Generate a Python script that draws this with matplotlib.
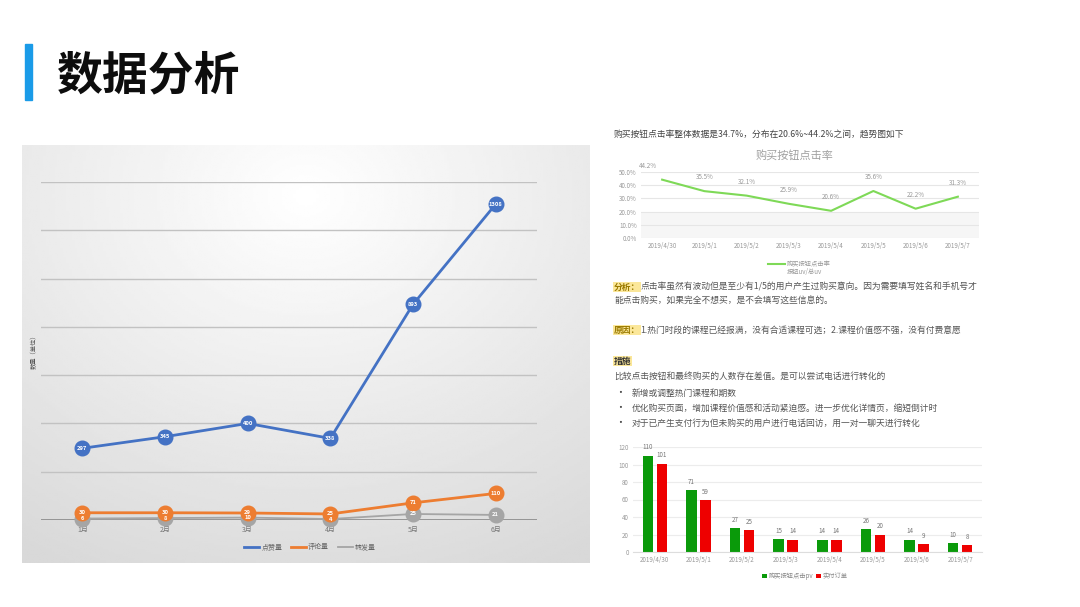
import numpy as np
import matplotlib
matplotlib.use("Agg")
from matplotlib import pyplot as plt
from matplotlib.lines import Line2D

plt.rcParams['font.family'] = ['Noto Sans CJK SC', 'DejaVu Sans']
plt.rcParams['axes.unicode_minus'] = False

W, H = 1080, 607

# left chart: monthly interaction counts
months = ["1月", "2月", "3月", "4月", "5月", "6月"]
likes = [297, 345, 400, 338, 893, 1308]
comments = [30, 30, 29, 25, 71, 110]
shares = [6, 8, 10, 4, 25, 21]
series_names = ["点赞量", "评论量", "转发量"]

# right charts: daily click rate and orders
days = ["2019/4/30", "2019/5/1", "2019/5/2", "2019/5/3", "2019/5/4", "2019/5/5", "2019/5/6", "2019/5/7"]
click_rate = [44.2, 35.5, 32.1, 25.9, 20.6, 35.6, 22.2, 31.3]
click_pv = [110, 71, 27, 15, 14, 26, 14, 10]
paid_orders = [101, 59, 25, 14, 14, 20, 9, 8]

fig = plt.figure(figsize=(W / 100, H / 100), dpi=100)
fig.patch.set_facecolor("white")


def ax_px(x0, y0, x1, y1, **kw):
    return fig.add_axes([x0 / W, 1 - y1 / H, (x1 - x0) / W, (y1 - y0) / H], **kw)


def ftext(x, y, s, **kw):
    return fig.text(x / W, 1 - y / H, s, **kw)


def runs(x, y, parts):
    r = fig.canvas.get_renderer()
    for s, kw in parts:
        t = ftext(x, y, s, va="center", ha="left", **kw)
        x += t.get_window_extent(r).width


# title
fig.patches.append(plt.Rectangle((25 / W, 1 - 100 / H), 7 / W, 56 / H,
                                 transform=fig.transFigure, color="#1a9be8"))
ftext(57, 76, "数据分析", fontsize=33, fontweight="heavy", va="center", ha="left", color="#0d0d0d")

# ---- left chart panel with soft gradient ----
bg = ax_px(22, 145, 590, 563)
yy, xx = np.mgrid[0:1:200j, 0:1:200j]
dist = np.sqrt(((xx - 0.5) * 1.1) ** 2 + (yy - 0.12) ** 2)
shade = 1 - 0.15 * np.clip(dist, 0, 1)
bg.imshow(shade, cmap="gray", vmin=0, vmax=1, aspect="auto", extent=(0, 1, 0, 1), origin="upper")
bg.set_axis_off()

ax = ax_px(41, 182, 537, 520)
ax.set_facecolor("none")
x = np.arange(len(months))
ax.set_xlim(-0.5, len(months) - 0.5)
ax.set_ylim(0, 1400)
ax.set_yticks(np.arange(0, 1401, 200))
ax.yaxis.grid(True, color="#c2c2c2", lw=1)
ax.set_axisbelow(True)
ax.axhline(0, color="#8a8a8a", lw=1.2)
for s in ax.spines.values():
    s.set_visible(False)
ax.tick_params(axis="y", length=0, labelleft=False)
ax.tick_params(axis="x", length=0, labelsize=5, labelcolor="#777777", pad=4)
ax.set_xticks(x)
ax.set_xticklabels(months)

colors = ["#4472c4", "#ed7d31", "#a5a5a5"]
widths = [2, 2, 1.3]
for vals, c, lw, name in [(shares, colors[2], widths[2], series_names[2]),
                          (comments, colors[1], widths[1], series_names[1]),
                          (likes, colors[0], widths[0], series_names[0])]:
    ax.plot(x, vals, color=c, lw=lw, marker="o", markersize=10.5, markerfacecolor=c,
            markeredgecolor=c, label=name, clip_on=False, zorder=3)
    for xi, v in zip(x, vals):
        ax.text(xi, v, str(v), fontsize=4.2, color="white", ha="center", va="center",
                fontweight="bold", zorder=4)

handles = [Line2D([], [], color=c, lw=lw) for c, lw in zip(colors, widths)]
fig.legend(handles, series_names, loc="center", bbox_to_anchor=(310 / W, 1 - 547 / H),
           ncol=3, frameon=False, fontsize=5, labelcolor="#666666", handlelength=2.2,
           columnspacing=1.2, handletextpad=0.3)
ftext(34, 350, "数量（单位）", rotation=90, fontsize=4.5, color="#555555", va="center", ha="center")

# ---- right side: click rate line chart ----
ftext(614, 134, "购买按钮点击率整体数据是34.7%，分布在20.6%~44.2%之间，趋势图如下",
      fontsize=6.3, color="#444444", va="center", ha="left")
ftext(795, 155, "购买按钮点击率", fontsize=8, color="#a0a0a0", va="center", ha="center")

lx = ax_px(641, 172, 979, 238)
lx.set_xlim(-0.5, len(days) - 0.5)
lx.set_ylim(0, 50)
lx.axhspan(0, 20, color="#f6f6f6", lw=0, zorder=0)
lx.set_yticks(np.arange(0, 51, 10))
lx.set_yticklabels([f"{v:.1f}%" for v in np.arange(0, 51, 10)])
lx.yaxis.grid(True, color="#e6e6e6", lw=0.8)
lx.set_axisbelow(True)
for s in lx.spines.values():
    s.set_visible(False)
lx.tick_params(length=0, labelsize=4.5, labelcolor="#999999", pad=3)
xd = np.arange(len(days))
lx.set_xticks(xd)
lx.set_xticklabels(days)
lx.plot(xd, click_rate, color="#7ed957", lw=1.5, zorder=3)
for xi, v in zip(xd, click_rate):
    lx.annotate(f"{v:.1f}%", (xi, v), xytext=(-10 if xi == 0 else 0, 10), textcoords="offset points",
                fontsize=4.5, color="#999999", ha="center", va="center")
fig.add_artist(Line2D([768 / W, 785 / W], [1 - 264 / H, 1 - 264 / H], color="#7ed957", lw=1.5))
ftext(787, 264, "购买按钮点击率", fontsize=4.5, color="#999999", va="center", ha="left")
ftext(787, 272, "按钮uv/总uv", fontsize=4.5, color="#999999", va="center", ha="left")

# ---- text block ----
body = dict(fontsize=6.3, color="#555555")
hl = dict(fontsize=6.3, color="#9a7a00", fontweight="bold",
          bbox=dict(facecolor="#fbe79a", edgecolor="none", pad=0.6))
runs(614, 287, [("分析：", hl),
                ("点击率虽然有波动但是至少有1/5的用户产生过购买意向。因为需要填写姓名和手机号才", body)])
runs(614, 301, [("能点击购买，如果完全不想买，是不会填写这些信息的。", body)])
runs(614, 330, [("原因：", hl),
                ("1.热门时段的课程已经报满，没有合适课程可选；2.课程价值感不强，没有付费意愿", body)])
runs(614, 361, [("措施", dict(fontsize=6.3, color="#333333", fontweight="bold",
                                bbox=dict(facecolor="#fbe79a", edgecolor="none", pad=0.6)))])
runs(614, 376, [("比较点击按钮和最终购买的人数存在差值。是可以尝试电话进行转化的", body)])
bullets = ["新增或调整热门课程和期数",
           "优化购买页面，增加课程价值感和活动紧迫感。进一步优化详情页，缩短倒计时",
           "对于已产生支付行为但未购买的用户进行电话回访，用一对一聊天进行转化"]
for i, b in enumerate(bullets):
    yb = 393 + i * 15
    ftext(620, yb, "•", fontsize=7, color="#444444", va="center", ha="center")
    ftext(632, yb, b, va="center", ha="left", **body)

# ---- bar chart ----
bx = ax_px(633, 447, 982, 552)
bx.set_xlim(-0.5, len(days) - 0.5)
bx.set_ylim(0, 120)
bx.set_yticks(np.arange(0, 121, 20))
bx.yaxis.grid(True, color="#ececec", lw=0.8)
bx.set_axisbelow(True)
for s in bx.spines.values():
    s.set_visible(False)
bx.spines["bottom"].set_visible(True)
bx.spines["bottom"].set_color("#dddddd")
bx.tick_params(length=0, labelsize=4.5, labelcolor="#999999", pad=3)
bx.set_xticks(xd)
bx.set_xticklabels(days)
bw = 0.24
b1 = bx.bar(xd - 0.16, click_pv, bw, color="#0a9a0a", label="购买按钮点击pv")
b2 = bx.bar(xd + 0.16, paid_orders, bw, color="#ee0000", label="实付订单")
for bars, vals in [(b1, click_pv), (b2, paid_orders)]:
    for r_, v in zip(bars, vals):
        bx.annotate(str(v), (r_.get_x() + r_.get_width() / 2, v), xytext=(0, 6),
                    textcoords="offset points", fontsize=4.5, color="#777777",
                    ha="center", va="center")
fig.legend([b1, b2], ["购买按钮点击pv", "实付订单"], loc="center",
           bbox_to_anchor=(805 / W, 1 - 576 / H), ncol=2, frameon=False, fontsize=4.5,
           labelcolor="#888888", handlelength=0.7, handleheight=0.7, handletextpad=0.3,
           columnspacing=0.5)

fig.savefig("out.png", dpi=100, facecolor="white")
